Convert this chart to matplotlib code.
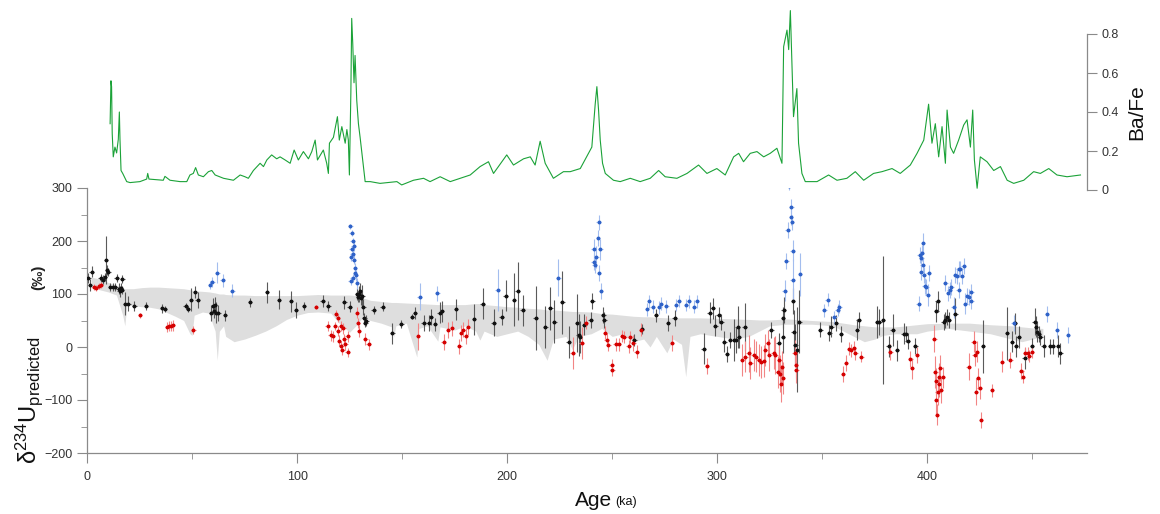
import matplotlib
matplotlib.use('Agg')
import matplotlib.pyplot as plt
from matplotlib.ticker import MultipleLocator
import numpy as np

plt.rcParams['font.family'] = ['Liberation Sans', 'DejaVu Sans']
plt.rcParams['mathtext.fontset'] = 'custom'
plt.rcParams['mathtext.rm'] = 'Liberation Sans'
plt.rcParams['mathtext.it'] = 'Liberation Sans:italic'

# Ba/Fe record (age ka, ratio)
bafe_age = [11, 11.4, 11.7, 12, 12.5, 13.3, 14.1, 14.9, 15.4, 15.7, 16.2, 17, 18.9, 20.5, 25.2, 28.4,
            28.9, 29.5, 36.3, 37.1, 39.5, 44.3, 47.5, 49, 50.6, 51.7, 53, 55.4, 57.8, 59.4, 61, 65,
            69.7, 72.9, 75.2, 76.8, 79.2, 82.4, 84, 85.6, 87.9, 90.3, 91.9, 94.3, 96.7, 98.6, 100.6,
            103, 105.4, 107, 108.6, 109.7, 112.5, 114.1, 114.9, 115.4, 117.3, 119.2, 120.1, 121.3,
            122.9, 123.7, 124.4, 124.9, 125.6, 126, 126.5, 127.1, 127.6, 128.4, 129.2, 130, 132.4,
            134.8, 139.5, 147.5, 149.8, 155.4, 160.2, 163.3, 168.1, 172.9, 177.6, 182.4, 187.1,
            191.1, 193.5, 199.8, 203, 207.8, 211, 213.3, 215.7, 218.1, 222, 226.8, 230, 234.8,
            238.7, 240.3, 241.9, 242.7, 243.5, 244.3, 245.4, 246.7, 250.6, 253.8, 258.6, 263.3,
            268.1, 272.1, 275.2, 280.8, 285.6, 291.1, 295.1, 299.8, 303.8, 307.8, 310.2, 312.5,
            315.7, 318.9, 322.1, 325.2, 328.4, 330.8, 331.6, 333.2, 334, 334.8, 335.6, 336.3,
            337.9, 338.7, 340.3, 341.9, 347.5, 353, 357, 361.7, 365.7, 369.7, 374.4, 378.4, 383.2,
            387.1, 391.9, 395.1, 398.3, 400.6, 402.2, 403.8, 405.4, 407, 408.6, 409.4, 411, 412.5,
            414.9, 417.3, 418.9, 420.5, 421.6, 422.4, 423.7, 425.2, 428.4, 431.6, 434.8, 438,
            441.1, 445.9, 450.6, 453.8, 457.8, 461.7, 466.5, 472.9]
bafe_val = [0.34, 0.56, 0.53, 0.29, 0.17, 0.22, 0.19, 0.26, 0.40, 0.26, 0.10, 0.085, 0.043, 0.038,
            0.043, 0.056, 0.085, 0.056, 0.05, 0.07, 0.05, 0.043, 0.043, 0.077, 0.085, 0.115, 0.077,
            0.068, 0.094, 0.10, 0.077, 0.06, 0.05, 0.077, 0.068, 0.06, 0.10, 0.137, 0.12, 0.154,
            0.18, 0.16, 0.17, 0.154, 0.137, 0.205, 0.154, 0.197, 0.16, 0.197, 0.256, 0.154, 0.205,
            0.137, 0.085, 0.24, 0.27, 0.376, 0.256, 0.325, 0.24, 0.31, 0.256, 0.077, 0.50, 0.88,
            0.75, 0.55, 0.69, 0.46, 0.34, 0.27, 0.043, 0.043, 0.034, 0.043, 0.026, 0.05, 0.06,
            0.043, 0.068, 0.043, 0.06, 0.077, 0.12, 0.145, 0.085, 0.18, 0.128, 0.16, 0.17, 0.128,
            0.25, 0.137, 0.06, 0.094, 0.094, 0.11, 0.188, 0.22, 0.44, 0.53, 0.41, 0.256, 0.137,
            0.085, 0.05, 0.043, 0.06, 0.043, 0.06, 0.10, 0.068, 0.06, 0.085, 0.128, 0.085, 0.11,
            0.077, 0.17, 0.188, 0.145, 0.188, 0.197, 0.17, 0.188, 0.214, 0.137, 0.735, 0.82, 0.72,
            0.92, 0.63, 0.376, 0.52, 0.24, 0.085, 0.043, 0.043, 0.077, 0.05, 0.06, 0.094, 0.05,
            0.085, 0.094, 0.11, 0.085, 0.128, 0.188, 0.256, 0.44, 0.24, 0.34, 0.17, 0.325, 0.137,
            0.41, 0.22, 0.188, 0.256, 0.333, 0.36, 0.22, 0.41, 0.154, 0.009, 0.17, 0.145, 0.10,
            0.12, 0.05, 0.034, 0.05, 0.094, 0.085, 0.11, 0.077, 0.068, 0.077]

# predicted envelope (age, upper, lower)
band = [(2, 132, 112), (6, 128, 108), (10, 122, 104), (14, 116, 98), (17, 112, 60), (18, 110, 40),
        (19, 110, 80), (22, 110, 78), (26, 112, 76), (30, 113, 75), (34, 113, 72), (38, 112, 65),
        (42, 111, 58), (46, 110, 50), (49, 108, 25), (50, 107, 22), (51, 106, 60), (55, 105, 66),
        (58, 104, 64), (61, 102, 30), (62, 101, -25), (63, 100, 30), (65, 100, 40), (66, 99, 20),
        (70, 98, 10), (75, 98, 15), (80, 97, 22), (85, 97, 30), (90, 97, 40), (95, 97, 52),
        (100, 97, 60), (105, 98, 65), (110, 99, 66), (116, 98, 64), (120, 98, 45), (125, 98, 28),
        (128, 97, 40), (131, 93, 55), (135, 88, 50), (140, 86, 45), (145, 84, 38), (146, 84, 19),
        (147, 84, 40), (152, 83, 45), (157, 82, -19), (158, 82, 35), (162, 81, 40), (167, 80, 11),
        (168, 80, 38), (175, 80, 32), (180, 80, 40), (185, 82, 30), (187, 82, 13), (189, 80, 30),
        (195, 78, 20), (200, 76, 25), (205, 75, 30), (210, 73, 20), (215, 72, 5), (219, 70, -25),
        (222, 70, 15), (228, 68, 20), (231, 67, -5), (234, 67, 20), (240, 66, 25), (245, 63, 35),
        (250, 62, 20), (255, 60, 25), (260, 58, 10), (265, 57, 15), (268, 57, 0), (271, 56, 20),
        (276, 55, -11), (279, 55, 15), (283, 55, 5), (285, 55, -56), (287, 55, 20), (292, 55, 25),
        (300, 54, 20), (308, 53, 15), (315, 52, 20), (320, 51, 30), (325, 51, 40), (333, 53, 43),
        (345, 50, 43), (355, 48, 40), (360, 45, 30), (365, 42, 20), (370, 40, 10), (375, 38, 15),
        (379, 38, 22), (385, 38, 25), (395, 42, 25), (400, 44, 30), (410, 45, 35), (420, 45, 30),
        (430, 42, 25), (440, 40, 15), (445, 38, 10), (450, 36, 15), (455, 35, 20)]

# samples (age, d234U, error)
black = [(0.6, 130, 10), (1.4, 117, 12), (2.2, 142, 10), (6.5, 130, 8), (7.5, 127, 8), (8.5, 132, 8),
         (9, 164, 45), (9.6, 145, 10), (10.2, 142, 8), (11, 113, 8), (12.5, 113, 8), (13.5, 113, 8),
         (14.1, 130, 8), (15, 110, 10), (15.5, 105, 10), (16, 112, 8), (16.5, 108, 8), (16.8, 128, 8),
         (18, 82, 22), (19.7, 82, 15), (22.5, 77, 10), (28, 77, 8), (35.9, 73, 8), (37, 72, 6),
         (47, 77, 6), (48, 72, 6), (49.5, 89, 22), (51.4, 104, 12), (52.7, 89, 15), (59, 64, 15),
         (60, 78, 15), (60.5, 67, 12), (61, 80, 15), (61.3, 65, 20), (62.5, 65, 15), (65.7, 60, 10),
         (77.6, 84, 8), (85.6, 103, 20), (91.4, 89, 18), (97.1, 86, 20), (99.5, 70, 15),
         (103.3, 77, 8), (112.2, 87, 12), (114.9, 77, 10), (122.5, 84, 12), (125, 76, 10),
         (128.5, 100, 12), (129, 95, 10), (129.5, 100, 15), (130, 105, 15), (130.5, 92, 12),
         (131, 97, 20), (131.5, 75, 15), (132, 55, 10), (133, 50, 10), (132.5, 45, 8), (136.4, 70, 8),
         (140.8, 76, 8), (145.4, 26, 20), (149.7, 43, 8), (154.8, 57, 5), (156.2, 64, 12),
         (160.2, 45, 15), (162.6, 46, 15), (163.7, 57, 15), (165.7, 43, 12), (167.8, 65, 20),
         (168.9, 67, 20), (175.7, 71, 20), (184.3, 52, 30), (188.4, 82, 30), (193.5, 46, 25),
         (197.4, 57, 15), (199.3, 97, 30), (203.3, 89, 50), (205, 106, 55), (207.3, 69, 30),
         (213.6, 55, 60), (218.1, 38, 40), (220.5, 73, 40), (222.5, 48, 40), (226.3, 84, 60),
         (229.2, 10, 30), (233.2, 45, 55), (234, 23, 40), (234.7, 19, 30), (236.8, 42, 20),
         (239.7, 51, 15), (240.6, 86, 15), (245.8, 60, 15), (246.2, 51, 15), (260.6, 13, 12),
         (264.1, 34, 10), (270.8, 60, 12), (276.5, 45, 15), (279.7, 55, 15), (293.5, -3, 30),
         (296.4, 65, 20), (297.8, 73, 20), (299.1, 40, 20), (300.7, 60, 15), (302, 48, 15),
         (303.4, 10, 20), (304.6, -13, 15), (306.2, 13, 15), (307.8, 13, 40), (308.9, 13, 25),
         (309.7, 38, 40), (310.2, 19, 20), (313.1, 38, 45), (325.8, 32, 15), (329.2, 7, 20),
         (331.3, 19, 30), (331.6, 70, 25), (331.3, 55, 20), (336.1, 87, 25), (336.4, 29, 40),
         (337.2, 4, 40), (338, -5, 80), (339.1, 48, 60), (349.1, 33, 15), (353.4, 26, 15),
         (354.3, 38, 20), (356.5, 45, 15), (358.9, 25, 15), (366.5, 33, 20), (367.3, 51, 15),
         (376.1, 47, 30), (377.2, 47, 25), (378.9, 51, 120), (381.6, 1, 20), (383.5, 32, 30),
         (385.6, -6, 20), (388.7, 25, 20), (389.8, 25, 15), (390.6, 12, 15), (394.3, 2, 15),
         (404.3, 67, 20), (404.9, 86, 20), (407.8, 48, 15), (408.6, 51, 15), (409.4, 57, 15),
         (410.2, 51, 15), (413.3, 62, 30), (426.5, 1, 50), (437.9, 26, 50), (440.3, 10, 20),
         (441.6, 45, 20), (442.2, 1, 20), (443.5, 19, 20), (446.3, -21, 20), (449.8, 2, 15),
         (451.1, 48, 25), (451.7, 38, 20), (452.2, 29, 20), (453, 25, 15), (453.8, 18, 15),
         (455.4, 2, 20), (458.6, 1, 15), (459.7, 1, 15), (462.2, 2, 20), (463.3, -12, 20)]

red = [(3.5, 113, 6), (4.5, 111, 6), (5.5, 115, 6), (6.5, 117, 6), (25.2, 60, 5), (38, 38, 10),
       (39, 40, 10), (40, 40, 10), (41, 41, 10), (50.6, 32, 8), (109, 75, 4), (114.6, 40, 10),
       (116, 22, 10), (117, 20, 10), (118, 40, 8), (118.5, 63, 6), (119.5, 55, 8), (119.5, 30, 10),
       (120, 12, 10), (121, 2, 10), (121.5, -5, 10), (121, 40, 10), (122, 35, 10), (122.5, 15, 10),
       (123, 5, 10), (124, -10, 8), (124, 20, 10), (128.5, 65, 10), (129, 45, 10), (129.5, 30, 12),
       (132.5, 15, 12), (134, 5, 10), (157.5, 20, 25), (169.7, 10, 15), (171.8, 32, 15),
       (173.7, 35, 15), (177.2, 1, 15), (178.1, 27, 15), (179.2, 33, 15), (180.3, 21, 15),
       (181.3, 38, 15), (231.1, -12, 30), (235.5, 7, 30), (237.6, 46, 12), (246.6, 27, 12),
       (247.4, 14, 12), (248.2, 4, 12), (249.8, -34, 12), (250.1, -43, 12), (251.7, 5, 12),
       (253, 5, 12), (254.6, 21, 12), (255.8, 19, 12), (257.8, 1, 12), (258.5, 19, 12),
       (260.1, 7, 15), (261.7, -9, 12), (263.8, 33, 12), (278.4, 8, 15), (295.1, -35, 15),
       (311.8, -25, 30), (313.4, -18, 30), (315, -12, 35), (315.8, -30, 30), (317.3, -15, 30),
       (318.5, -18, 30), (319.7, -25, 30), (321, -28, 30), (322.1, -26, 30), (322.9, -6, 30),
       (324, 8, 25), (324.8, -15, 30), (326.9, -11, 30), (327.7, -15, 35), (328.8, -47, 30),
       (329.6, -25, 30), (330.1, -50, 35), (330.4, -69, 35), (330.8, -37, 30), (331.1, -59, 30),
       (336.9, -12, 25), (337.5, -34, 25), (337.7, -43, 25), (359.9, -51, 15), (361.3, -31, 15),
       (362.9, -3, 12), (363.7, -6, 12), (364.9, -1, 12), (365.8, -12, 12), (368.6, -18, 10),
       (382.4, -9, 15), (391.9, -23, 15), (392.7, -40, 20), (395.1, -15, 15), (403.3, 16, 25),
       (403.8, -47, 30), (404.1, -100, 30), (404.6, -128, 20), (404.9, -84, 25), (405.4, -69, 25),
       (405.7, -56, 25), (406.2, -40, 25), (406.5, -81, 25), (407.3, -57, 20), (404.3, -65, 25),
       (419.7, -37, 25), (422.1, 10, 20), (422.5, -15, 20), (423.2, -84, 25), (423.7, -9, 20),
       (424.1, -59, 20), (424.9, -78, 20), (425.6, -138, 15), (430.8, -82, 12), (435.6, -28, 20),
       (439.5, -25, 15), (444.8, -45, 15), (445.6, -56, 12), (446.7, -12, 12), (447.9, -12, 12),
       (448.6, -17, 12), (449.8, -9, 12)]

blue = [(58.6, 117, 8), (59.7, 123, 10), (62, 140, 20), (64.6, 126, 12), (69.2, 106, 12),
        (125.3, 228, 5), (126, 215, 6), (126.5, 200, 6), (126, 185, 6), (126.5, 175, 8), (127, 165, 8),
        (127.5, 150, 8), (127.5, 140, 8), (126.5, 130, 8), (125.5, 125, 8), (128, 135, 10),
        (128.5, 120, 10), (127, 190, 8), (125.8, 170, 8), (158.3, 95, 25), (166.8, 101, 15),
        (195.4, 108, 40), (224.4, 131, 35), (241.1, 184, 20), (241.1, 161, 15), (241.6, 155, 15),
        (242.4, 170, 20), (243.2, 205, 15), (243.5, 235, 15), (244.3, 184, 20), (243.8, 140, 15),
        (244.6, 106, 15), (266.5, 71, 12), (267.6, 86, 12), (269.2, 76, 12), (272.4, 75, 12),
        (273.2, 82, 12), (275.7, 77, 12), (280.3, 79, 12), (281.6, 87, 12), (285.3, 79, 12),
        (286.4, 86, 12), (289.1, 76, 12), (290.4, 86, 12), (332.1, 106, 20), (332.9, 163, 15),
        (333.5, 221, 15), (334.3, 304, 8), (335.1, 246, 15), (335.3, 264, 15), (335.6, 235, 15),
        (335.9, 182, 20), (335.9, 126, 40), (339.4, 137, 40), (351, 69, 12), (352.6, 89, 12),
        (355.8, 56, 12), (357.3, 70, 12), (358.1, 76, 12), (395.9, 82, 15), (396.3, 174, 15),
        (397, 142, 15), (397.1, 167, 15), (397.5, 177, 15), (397.9, 196, 20), (397.8, 155, 15),
        (398.3, 136, 15), (398.7, 115, 15), (399.5, 113, 15), (400.2, 98, 20), (400.6, 139, 15),
        (408.6, 120, 15), (409.8, 101, 15), (410.6, 108, 15), (411.4, 113, 15), (412.5, 75, 20),
        (413.3, 136, 15), (414.1, 134, 15), (414.9, 147, 15), (415.7, 148, 15), (416.5, 134, 15),
        (417.3, 152, 15), (414.9, 108, 15), (418.1, 82, 20), (418.9, 96, 15), (419.7, 95, 15),
        (421, 104, 15), (421, 86, 15), (441.1, 45, 15), (457, 62, 15), (461.7, 32, 15), (467, 23, 15)]

u_ticks = [-200, -100, 0, 100, 200, 300]
bafe_ticks = [0, 0.2, 0.4, 0.6, 0.8]
bafe_labels = ['0', '0.2', '0.4', '0.6', '0.8']
age_ticks = [0, 100, 200, 300, 400]

AX_COL = '#8a8a8a'
TXT_COL = '#333333'

fig = plt.figure(figsize=(11.6, 5.14), dpi=100)
left, width = 87 / 1160, 1000 / 1160

# lower panel: d234U
ax = fig.add_axes([left, 1 - 453 / 514, width, 265 / 514])
ba, bhi, blo = zip(*band)
ax.fill_between(ba, blo, bhi, color='#dedede', lw=0, zorder=1)


def draw_pts(pts, mcol, ecol):
    x, y, e = (np.array(v) for v in zip(*pts))
    ax.errorbar(x, y, yerr=e, xerr=1.1, fmt='o', ms=1.8, mfc=mcol, mec=mcol,
                ecolor=ecol, elinewidth=0.8, capsize=0, zorder=3)


draw_pts(black, '#111111', '#5a5a5a')
draw_pts(red, '#d40000', '#f28585')
draw_pts(blue, '#2f62c8', '#a3bdee')

ax.set_xlim(0, 476)
ax.set_ylim(-200, 300)
for s in ['top', 'right']:
    ax.spines[s].set_visible(False)
for s in ['left', 'bottom']:
    ax.spines[s].set_color(AX_COL)
    ax.spines[s].set_linewidth(0.9)
ax.set_yticks(u_ticks)
ax.set_xticks(age_ticks)
ax.yaxis.set_minor_locator(MultipleLocator(50))
ax.xaxis.set_minor_locator(MultipleLocator(50))
ax.tick_params(which='major', length=7, color=AX_COL, labelsize=9, labelcolor=TXT_COL)
ax.tick_params(which='minor', length=4, color=AX_COL)
ax.tick_params(axis='x', which='major', pad=6)

# upper panel: Ba/Fe
ax2 = fig.add_axes([left, 1 - 190 / 514, width, 190 / 514])
ax2.patch.set_alpha(0)
ax2.plot(bafe_age, bafe_val, color='#1ba238', lw=0.8, zorder=2)
ax2.set_xlim(0, 476)
ax2.set_ylim(0, 190 / 195)
for s in ['top', 'left', 'bottom']:
    ax2.spines[s].set_visible(False)
ax2.spines['right'].set_bounds(0, 0.8)
ax2.spines['right'].set_color(AX_COL)
ax2.spines['right'].set_linewidth(0.9)
ax2.set_xticks([])
ax2.yaxis.tick_right()
ax2.set_yticks(bafe_ticks)
ax2.set_yticklabels(bafe_labels)
ax2.tick_params(axis='y', length=7, color=AX_COL, labelsize=9, labelcolor=TXT_COL)

# labels
fig.text(29 / 1160, 1 - 400 / 514, 'δ$^{\\mathrm{234}}$U$_{\\mathrm{predicted}}$', rotation=90,
         fontsize=17, ha='center', va='center', color='#111111')
fig.text(38 / 1160, 1 - 277 / 514, '(‰)', rotation=90, fontsize=11, fontweight='bold',
         ha='center', va='center', color='#222222')
fig.text(612 / 1160, 1 - 500 / 514, 'Age', fontsize=15, ha='right', va='center', color='#111111')
fig.text(615 / 1160, 1 - 502 / 514, '(ka)', fontsize=9, ha='left', va='center', color='#111111')
fig.text(1137 / 1160, 1 - 112 / 514, 'Ba/Fe', rotation=90, fontsize=15, ha='center',
         va='center', color='#111111')

fig.savefig('out.png', dpi=100)
